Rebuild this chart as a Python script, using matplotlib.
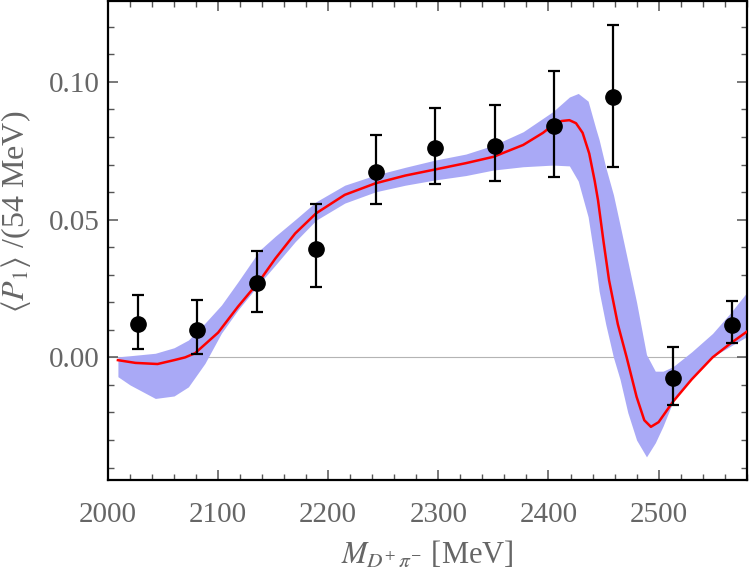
import matplotlib
matplotlib.use("Agg")
import matplotlib.pyplot as plt
from matplotlib.ticker import MultipleLocator

plt.rcParams['font.family'] = ['Liberation Serif', 'DejaVu Serif']
plt.rcParams['mathtext.fontset'] = 'stix'

# data points (54 MeV bins)
mass = [2027, 2081, 2135, 2189, 2243, 2297, 2351, 2405, 2459, 2513, 2567]
p1 = [0.0122, 0.0100, 0.0269, 0.0393, 0.0674, 0.0759, 0.0768, 0.0841, 0.0944, -0.0073, 0.0117]
err_hi = [0.0227, 0.0210, 0.0387, 0.0555, 0.0807, 0.0906, 0.0916, 0.1040, 0.1206, 0.0038, 0.0206]
err_lo = [0.0030, 0.0012, 0.0165, 0.0254, 0.0555, 0.0629, 0.0641, 0.0656, 0.0692, -0.0173, 0.0053]

# fit curve
fit_m = [2009, 2025, 2045, 2060, 2070, 2079, 2100, 2118, 2138, 2152, 2170, 2189,
         2215, 2243, 2270, 2297, 2325, 2350, 2377, 2395, 2404, 2412, 2419, 2425,
         2431, 2437, 2442, 2445, 2450, 2455, 2463, 2471, 2480, 2487, 2493, 2500,
         2513, 2530, 2549, 2565, 2580]
fit_v = [-0.0010, -0.0020, -0.0024, -0.0010, 0.0000, 0.0015, 0.0090, 0.0184, 0.0280,
         0.0359, 0.0450, 0.0523, 0.0590, 0.0632, 0.0660, 0.0682, 0.0705, 0.0728,
         0.0771, 0.0815, 0.0843, 0.0858, 0.0861, 0.0850, 0.0815, 0.0740, 0.0640,
         0.0570, 0.0420, 0.0280, 0.0120, 0.0000, -0.0143, -0.0228, -0.0252,
         -0.0235, -0.0161, -0.0080, 0.0000, 0.0050, 0.0093]

# uncertainty band
band_m = [2009, 2020, 2043, 2060, 2073, 2088, 2103, 2118, 2138, 2152, 2170, 2189,
          2215, 2243, 2270, 2297, 2325, 2350, 2377, 2404, 2419, 2427, 2436, 2443,
          2446, 2452, 2459, 2465, 2472, 2480, 2489, 2497, 2504, 2513, 2530, 2549,
          2565, 2580]
band_hi = [0.0002, 0.0006, 0.0015, 0.0035, 0.0063, 0.0124, 0.0190, 0.0274, 0.0390,
           0.0440, 0.0500, 0.0565, 0.0625, 0.0662, 0.0690, 0.0716, 0.0738, 0.0770,
           0.0819, 0.0892, 0.0945, 0.0958, 0.0930, 0.0830, 0.0790, 0.0690, 0.0590,
           0.0480, 0.0350, 0.0200, 0.0010, -0.0050, -0.0050, -0.0034, 0.0020,
           0.0087, 0.0160, 0.0235]
band_lo = [-0.0070, -0.0100, -0.0149, -0.0140, -0.0107, -0.0022, 0.0088, 0.0172,
           0.0270, 0.0335, 0.0420, 0.0498, 0.0560, 0.0601, 0.0625, 0.0644, 0.0660,
           0.0680, 0.0692, 0.0698, 0.0695, 0.0640, 0.0510, 0.0330, 0.0240, 0.0120,
           0.0000, -0.0080, -0.0200, -0.0300, -0.0361, -0.0310, -0.0250, -0.0161,
           -0.0075, 0.0002, 0.0040, 0.0075]

fig = plt.figure(figsize=(7.5, 5.73), dpi=100)
ax = fig.add_axes([0.144, 0.1623, 0.8516, 0.8357])

ax.axhline(0, color='#b4b4b4', lw=0.8, zorder=1)
ax.fill_between(band_m, band_lo, band_hi, color='#a9a9f6', lw=0, zorder=2)
ax.plot(fit_m, fit_v, color='#ff0000', lw=1.8, zorder=3)

yerr = [[v - lo for v, lo in zip(p1, err_lo)], [hi - v for v, hi in zip(p1, err_hi)]]
ax.errorbar(mass, p1, yerr=yerr, fmt='o', color='black', ms=11, elinewidth=1.6,
            capsize=4, capthick=1.6, zorder=4)

ax.set_xlim(2000, 2580)
ax.set_ylim(-0.0445, 0.1293)
ax.xaxis.set_major_locator(MultipleLocator(100))
ax.xaxis.set_minor_locator(MultipleLocator(20))
ax.yaxis.set_major_locator(MultipleLocator(0.05))
ax.yaxis.set_minor_locator(MultipleLocator(0.01))
ax.yaxis.set_major_formatter(plt.FormatStrFormatter('%.2f'))

ax.tick_params(which='both', direction='in', top=True, right=True, color='#555555',
               labelcolor='#666666', labelsize=21)
ax.tick_params(which='major', length=7, width=1.1)
ax.tick_params(which='minor', length=4, width=1.0)
ax.tick_params(axis='x', pad=16)
ax.tick_params(axis='y', pad=6)
for s in ax.spines.values():
    s.set_linewidth(1.6)
    s.set_color('black')

ax.set_xlabel(r'$M_{D^{+}\,\pi^{-}}$ [MeV]', fontsize=22, color='#666666', labelpad=8)
ax.set_ylabel(r'$\langle P_1\rangle$ /(54 MeV)', fontsize=23, color='#666666')
ax.yaxis.set_label_coords(-0.118, 0.56)

fig.savefig('out.png', dpi=100)
